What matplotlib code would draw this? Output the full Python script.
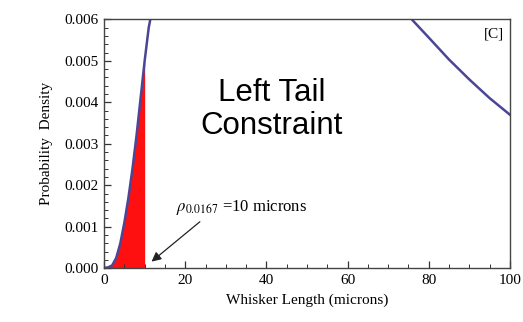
import matplotlib.pyplot as plt
from matplotlib.ticker import MultipleLocator, FormatStrFormatter

# density curve, left branch (rising part up to the top of the plot range)
left_x = [0, 1, 2, 3, 4, 5, 6, 7, 8, 9, 10, 11, 11.4]
left_y = [0.00001, 0.00002, 0.00007, 0.00025, 0.0006, 0.0011, 0.0017,
          0.0024, 0.0032, 0.0041, 0.0050, 0.0058, 0.0060]

# density curve, right branch (coming back down into range)
right_x = [75.8, 80, 85, 90, 95, 100]
right_y = [0.0060, 0.00556, 0.00503, 0.00455, 0.00410, 0.00370]

cutoff = 10
x_ticks = [0, 20, 40, 60, 80, 100]
y_ticks = [0.000, 0.001, 0.002, 0.003, 0.004, 0.005, 0.006]

serif = "Liberation Serif"
line_color = "#4b4597"

plt.rcParams["mathtext.fontset"] = "stix"

fig = plt.figure(figsize=(5.23, 3.22), dpi=100)
ax = fig.add_axes([0.199, 0.167, 0.776, 0.773])

# shaded tail below the cutoff
fx = [x for x in left_x if x <= cutoff]
fy = left_y[:len(fx)]
ax.fill_between(fx, fy, 0, color="#ff1010", lw=0)

ax.plot(left_x, left_y, color=line_color, lw=1.8)
ax.plot(right_x, right_y, color=line_color, lw=1.8)

ax.set_xlim(0, 100)
ax.set_ylim(0, 0.006)
ax.set_xticks(x_ticks)
ax.set_yticks(y_ticks)
ax.xaxis.set_minor_locator(MultipleLocator(5))
ax.yaxis.set_minor_locator(MultipleLocator(0.0002))
ax.yaxis.set_major_formatter(FormatStrFormatter("%.3f"))
ax.tick_params(which="both", direction="in", top=False, right=False,
               labelsize=11, pad=4, color="#333333")
ax.tick_params(which="major", length=5, width=0.9)
ax.tick_params(which="minor", length=3, width=0.7)
for lab in ax.get_xticklabels() + ax.get_yticklabels():
    lab.set_fontfamily(serif)
for sp in ax.spines.values():
    sp.set_color("#444444")
    sp.set_linewidth(1.0)

ax.set_xlabel("Whisker Length (microns)", fontfamily=serif, fontsize=11, labelpad=5)
ax.set_ylabel("Probability  Density", fontfamily=serif, fontsize=11, labelpad=8)

ax.text(41.3, 0.00382, "Left Tail\nConstraint", ha="center", va="center",
        fontfamily="Liberation Sans", fontsize=22.5, linespacing=1.15)
ax.text(98.5, 0.0058, "[C]", ha="right", va="top", fontfamily=serif, fontsize=11)

ax.text(17.8, 0.00139, r"$\rho_{0.0167}$ =10 microns", fontfamily=serif,
        fontsize=12, ha="left", va="baseline")
ax.annotate("", xy=(11.7, 0.00016), xytext=(23.6, 0.00112),
            arrowprops=dict(arrowstyle="-|>", color="#222222", lw=0.9,
                            mutation_scale=14, shrinkA=0, shrinkB=0))

fig.savefig("out.png", dpi=100)
